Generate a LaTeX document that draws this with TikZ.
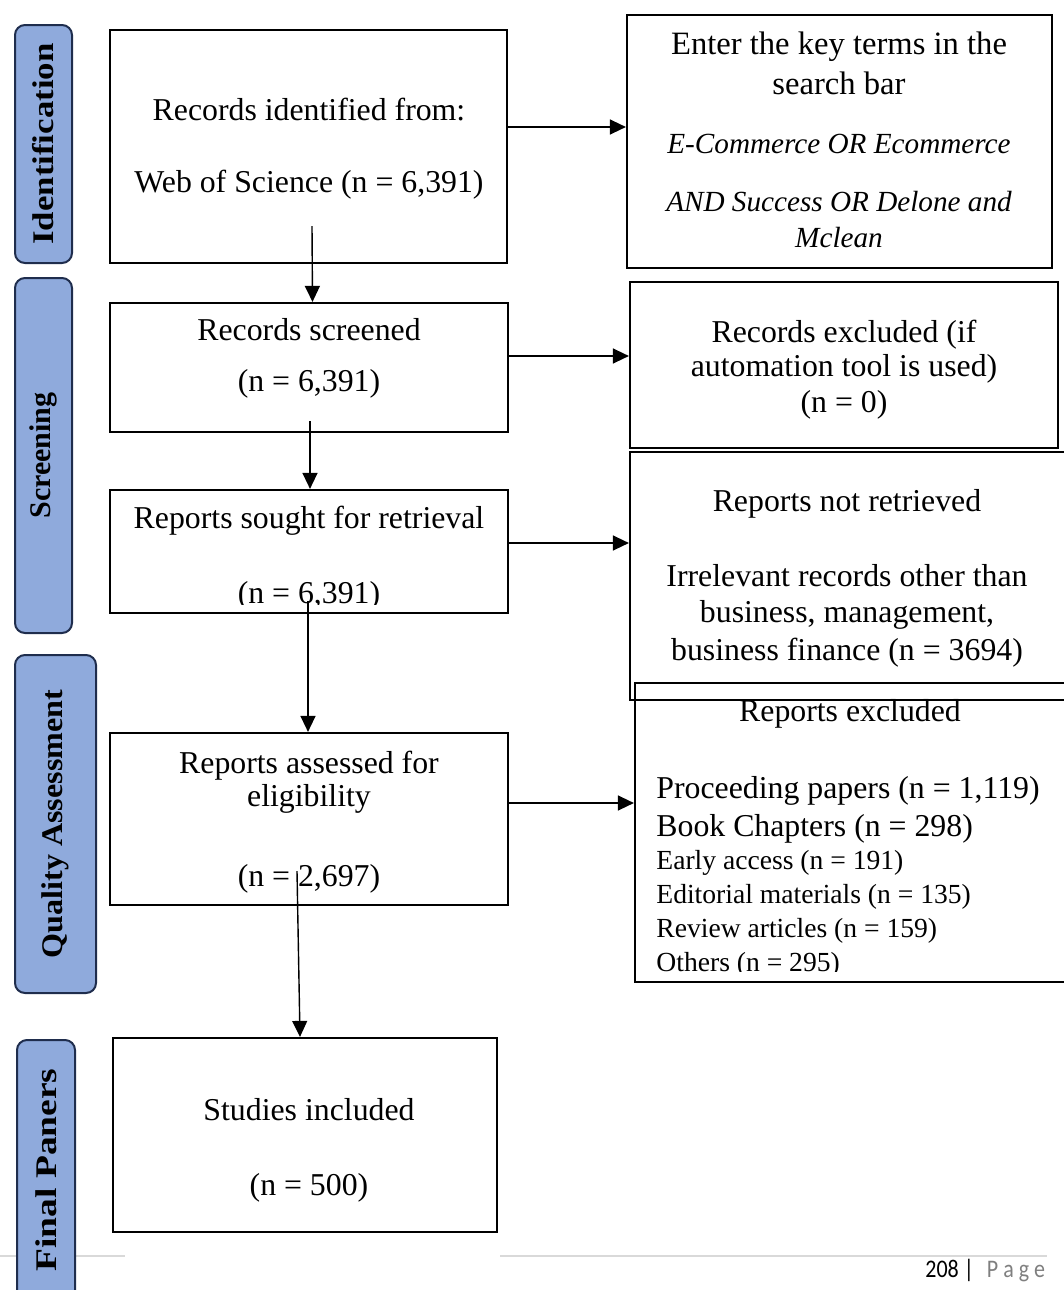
\documentclass[tikz,border=0pt]{standalone}
\usepackage{fontspec}
\setmainfont{Liberation Serif}
\newfontfamily\pagefont{Carlito}
\usetikzlibrary{arrows.meta}
\definecolor{barblue}{HTML}{8FAADC}
\definecolor{barline}{HTML}{1F2D4D}
\definecolor{footgray}{HTML}{D9D9D9}
\definecolor{pagegray}{HTML}{7F7F7F}
\begin{document}
\begin{tikzpicture}[x=0.5pt, y=-0.5pt, font=\fontsize{15.9}{18}\selectfont,
  flowbox/.style={draw, line width=1.1pt, inner sep=0pt},
  phasebar/.style={draw=barline, line width=1pt, fill=barblue, rounded corners=5pt,
    rotate=90, inner sep=0pt, font=\fontsize{15}{18}\selectfont\bfseries},
  txt/.style={align=center, inner sep=0pt},
  arr/.style={-{Triangle[length=8pt,width=7.5pt]}, line width=0.7pt}]
\useasboundingbox (0,0) rectangle (1064,1290);
% page footer
\draw[footgray, line width=0.75pt] (0,1256) -- (125,1256) (500,1256) -- (1047,1256);
\node[anchor=base west, inner sep=0pt, font=\pagefont\fontsize{11}{12}\selectfont] (pagenum) at (925,1277)
  {\scalebox{1}[1.15]{208 |\hspace{6.5pt}\textcolor{pagegray}{P a g e}}};
% phase bars left
\node[phasebar, minimum width=119pt, minimum height=28.5pt] (idbar) at (43.5,144) {\scalebox{1.16}[1]{Identification}};
\node[phasebar, minimum width=177.5pt, minimum height=28.5pt] (scrbar) at (43.5,455.5) {Screening};
\node[phasebar, minimum width=169pt, minimum height=40.5pt] (qabar) at (55.5,824) {\scalebox{1.07}[1]{Quality Assessment}};
\node[phasebar, minimum width=130pt, minimum height=29pt] (finbar) at (46,1170) {\scalebox{1.25}[1]{Final Paners}};
% main column
\node[flowbox, minimum width=198.5pt, minimum height=116.5pt] (ident) at (308.5,146.5) {};
\node[txt] (identtxt) at (309,149) {Records identified from:\\[18pt]Web of Science (n = 6,391)};
\node[flowbox, minimum width=199pt, minimum height=64.5pt] (screen) at (309,367.5) {};
\node[txt] (screentxt) at (309,358) {Records screened\\[7.5pt](n = 6,391)};
\node[flowbox, minimum width=199pt, minimum height=61.5pt] (sought) at (309,551.5) {};
\begin{scope}
\clip (100,480) rectangle (520,604);
\node[txt] (soughttxt) at (309,558) {Reports sought for retrieval\\[19.5pt](n = 6,391)};
\end{scope}
\node[flowbox, minimum width=199pt, minimum height=86pt] (assess) at (309,819) {};
\node[txt] (assesstxt) at (309,822) {Reports assessed for\\[-1.5pt]eligibility\\[22pt](n = 2,697)};
\node[flowbox, minimum width=192pt, minimum height=97pt] (incl) at (305,1135) {};
\node[txt] (incltxt) at (309,1150) {Studies included\\[19.5pt](n = 500)};
% side boxes right
\node[flowbox, minimum width=212.5pt, minimum height=126.5pt] (terms) at (839.5,141.5) {};
\node[txt, font=\fontsize{16.3}{18}\selectfont] (termstxt) at (839,140) {Enter the key terms in the\\[2pt]search bar\\[11.5pt]
  {\fontsize{14.6}{18}\selectfont\itshape E-Commerce OR Ecommerce}\\[11pt]
  {\fontsize{14.6}{18}\selectfont\itshape AND Success OR Delone and}\\
  {\fontsize{14.6}{18}\selectfont\itshape Mclean}};
\node[flowbox, minimum width=214pt, minimum height=83pt] (excl) at (844,365) {};
\node[txt] (excltxt) at (844,370) {Records excluded (if\\[-1pt]automation tool is used)\\(n = 0)};
\node[flowbox, minimum width=219pt, minimum height=124pt] (notret) at (849,576) {};
\node[txt] (notrettxt) at (847,578) {Reports not retrieved\\[19.5pt]Irrelevant records other than\\business, management,\\[1pt]business finance (n = 3694)};
\node[flowbox, minimum width=216.5pt, minimum height=149.5pt] (repexcl) at (851.5,832.5) {};
\node[txt] (repexclhead) at (850,714) {Reports excluded};
\begin{scope}
\clip (640,740) rectangle (1064,971);
\node[anchor=north west, align=left, inner sep=0pt, font=\fontsize{15.9}{17}\selectfont] (repexcllist) at (656,776)
  {Proceeding papers (n = 1,119)\\[2pt]Book Chapters (n = 298)\\[-0.5pt]
   {\fontsize{13.8}{17}\selectfont Early access (n = 191)}\\
   {\fontsize{13.8}{17}\selectfont Editorial materials (n = 135)}\\
   {\fontsize{13.8}{17}\selectfont Review articles (n = 159)}\\
   {\fontsize{13.8}{17}\selectfont Others (n = 295)}};
\end{scope}
% connectors
\draw[arr] ([yshift=9.75pt]ident.east) -- ([yshift=9.75pt]ident.east -| terms.west);
\draw[arr] ([yshift=5.75pt]screen.east) -- ([yshift=5.75pt]screen.east -| excl.west);
\draw[arr] ([yshift=4.25pt]sought.east) -- ([yshift=4.25pt]sought.east -| notret.west);
\draw[arr] ([yshift=8pt]assess.east) -- ([yshift=8pt]assess.east -| repexcl.west);
\draw[arr] ([shift={(1.75pt,19pt)}]ident.south) -- ([xshift=1.75pt]screen.north);
\draw[arr] ([shift={(0.5pt,6pt)}]screen.south) -- ([xshift=0.5pt]sought.north);
\draw[arr] ([shift={(-0.5pt,6.5pt)}]sought.south) -- ([xshift=-0.5pt]assess.north);
\draw[arr] ([shift={(-6pt,17.5pt)}]assess.south) -- ([xshift=-2.5pt]incl.north);
\end{tikzpicture}
\end{document}
